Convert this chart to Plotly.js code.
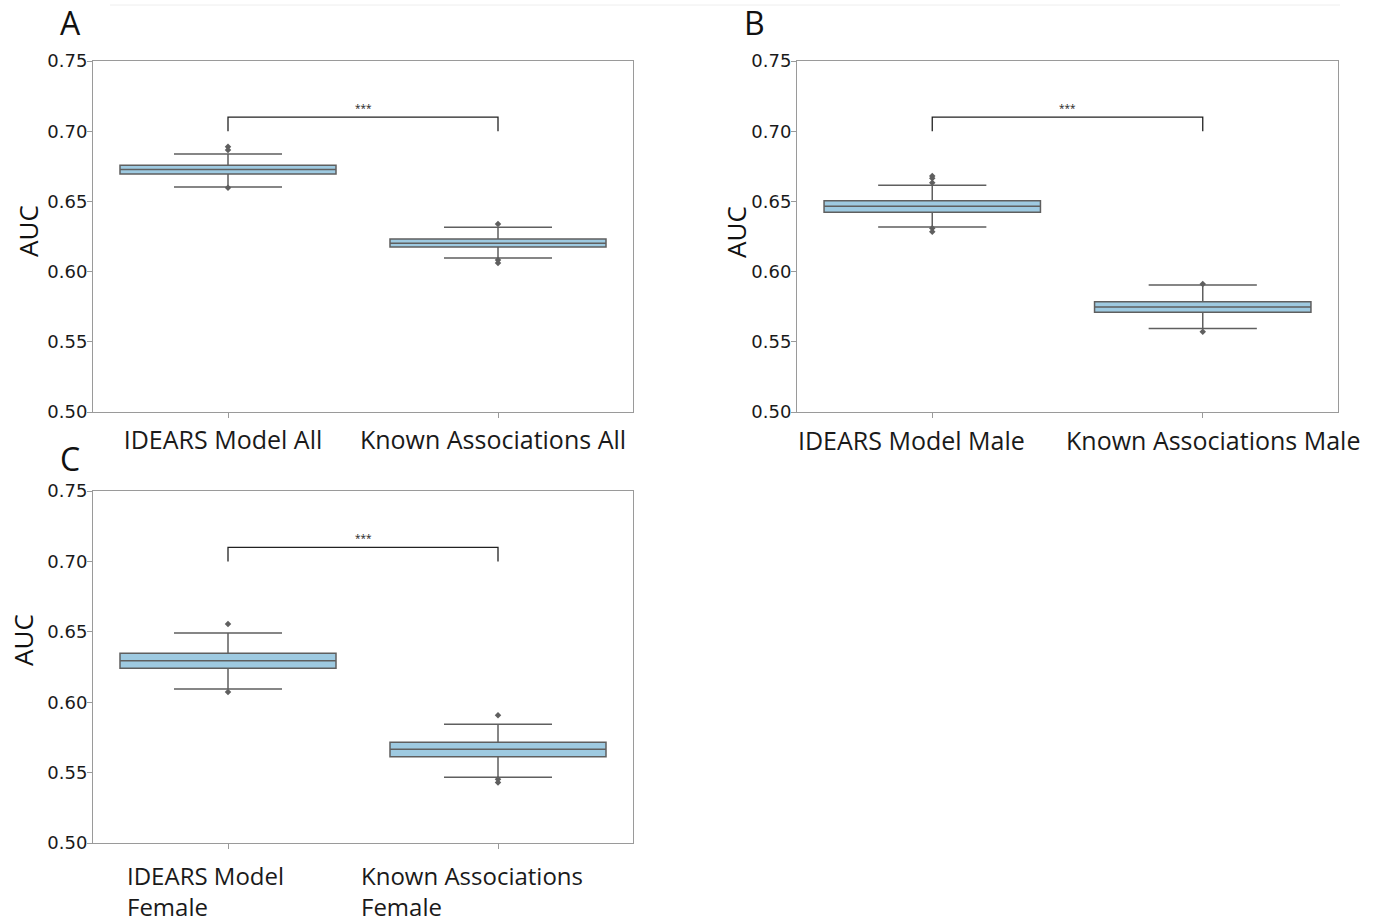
<!DOCTYPE html>
<html>
<head>
<meta charset="utf-8">
<script src="https://cdn.plot.ly/plotly-3.0.1.min.js"></script>
<style>html,body{margin:0;padding:0;background:#fff}#chart{width:1376px;height:922px}</style>
</head>
<body>
<div id="chart"></div>
<script>
// ---- data ----
const panelLetters = ['A', 'B', 'C'];
const categoriesA = ['IDEARS Model All', 'Known Associations All'];
const categoriesB = ['IDEARS Model Male', 'Known Associations Male'];
const categoriesC = ['IDEARS Model Female', 'Known Associations Female'];
const labelsC = ['IDEARS Model<br>Female', 'Known Associations<br>Female'];
const yTitle = 'AUC';

const q1A = [0.6695, 0.6175];
const medA = [0.6727, 0.6202];
const q3A = [0.6757, 0.6232];
const loA = [0.6603, 0.6097];
const hiA = [0.6838, 0.6316];
const outA = [[0.6890, 0.6866, 0.6598], [0.6339, 0.6083, 0.6062]];

const q1B = [0.6422, 0.5710];
const medB = [0.6465, 0.5748];
const q3B = [0.6505, 0.5786];
const loB = [0.6318, 0.5594];
const hiB = [0.6615, 0.5905];
const outB = [[0.6681, 0.6665, 0.6633, 0.6308, 0.6284], [0.5912, 0.5572]];

const q1C = [0.6241, 0.5613];
const medC = [0.6295, 0.5665];
const q3C = [0.6347, 0.5715];
const loC = [0.6094, 0.5467];
const hiC = [0.6491, 0.5843];
const outC = [[0.6555, 0.6072], [0.5907, 0.5452, 0.5430]];

const bracketTop = 0.71;
const bracketEnd = 0.70;
const sigLabel = '***';
const yTicks = [0.50, 0.55, 0.60, 0.65, 0.70, 0.75];

// ---- styling ----
const BOX_FILL = '#9ecae1';
const LINE = '#5f5f5f';
const FRAME = '#9a9a9a';
const FONT = 'Open Sans, Noto Sans, DejaVu Sans, sans-serif';
const TICKFONT = 'DejaVu Sans, sans-serif';

const panels = [
  {cats: categoriesA, q1: q1A, med: medA, q3: q3A, lo: loA, hi: hiA, out: outA, xa: 'x', ya: 'y'},
  {cats: categoriesB, q1: q1B, med: medB, q3: q3B, lo: loB, hi: hiB, out: outB, xa: 'x2', ya: 'y2'},
  {cats: categoriesC, q1: q1C, med: medC, q3: q3C, lo: loC, hi: hiC, out: outC, xa: 'x3', ya: 'y3'}
];

const traces = [];
panels.forEach(p => {
  traces.push({
    type: 'box', x: p.cats, q1: p.q1, median: p.med, q3: p.q3,
    lowerfence: p.lo, upperfence: p.hi, boxpoints: false,
    width: 0.8, whiskerwidth: 0.5,
    fillcolor: BOX_FILL, line: {color: LINE, width: 1.5},
    xaxis: p.xa, yaxis: p.ya, showlegend: false, hoverinfo: 'skip'
  });
  const ox = [], oy = [];
  p.out.forEach((arr, i) => arr.forEach(v => { ox.push(p.cats[i]); oy.push(v); }));
  traces.push({
    type: 'scatter', mode: 'markers', x: ox, y: oy,
    marker: {symbol: 'diamond', size: 5, color: LINE},
    xaxis: p.xa, yaxis: p.ya, showlegend: false, hoverinfo: 'skip'
  });
  traces.push({
    type: 'scatter', mode: 'lines',
    x: [p.cats[0], p.cats[0], p.cats[1], p.cats[1]],
    y: [bracketEnd, bracketTop, bracketTop, bracketEnd],
    line: {color: '#222', width: 1.3},
    xaxis: p.xa, yaxis: p.ya, showlegend: false, hoverinfo: 'skip'
  });
});

function xAxis(domain, anchor, showLabels) {
  return {
    domain: domain, anchor: anchor, type: 'category', range: [-0.5, 1.5],
    showline: true, mirror: true, linecolor: FRAME, linewidth: 1,
    ticks: 'outside', ticklen: 5, tickcolor: FRAME,
    showticklabels: showLabels, ticklabelshift: -5, ticklabelstandoff: 1,
    tickfont: {family: FONT, size: 25, color: '#1a1a1a'},
    showgrid: false, zeroline: false, fixedrange: true
  };
}
function yAxis(domain, anchor) {
  return {
    domain: domain, anchor: anchor, range: [0.5, 0.75],
    tickvals: yTicks, tickformat: '.2f',
    showline: true, mirror: true, linecolor: FRAME, linewidth: 1,
    ticks: 'outside', ticklen: 5, tickcolor: FRAME, ticklabelstandoff: -4,
    tickfont: {family: TICKFONT, size: 18, color: '#1a1a1a'},
    showgrid: false, zeroline: false, fixedrange: true
  };
}

const W = 1376, H = 922;
const domA_x = [93 / W, 633 / W];
const domB_x = [797 / W, 1338 / W];
const domTop_y = [1 - 412 / H, 1 - 61 / H];
const domBot_y = [1 - 843 / H, 1 - 491 / H];

const annotations = [];
const letterPos = [[70, 22], [754, 22], [70, 458]];
panelLetters.forEach((L, i) => {
  annotations.push({
    xref: 'paper', yref: 'paper', x: letterPos[i][0] / W, y: 1 - letterPos[i][1] / H,
    xanchor: 'center', yanchor: 'middle', showarrow: false, text: L,
    font: {family: FONT, size: 32, color: '#111'}
  });
});
// y-axis titles
const titlePos = [[28, 231], [736, 232], [23, 640]];
titlePos.forEach(pos => {
  annotations.push({
    xref: 'paper', yref: 'paper', x: pos[0] / W, y: 1 - pos[1] / H,
    xanchor: 'center', yanchor: 'middle', textangle: -90, showarrow: false,
    text: yTitle, font: {family: FONT, size: 26, color: '#111'}
  });
});
['x', 'x2', 'x3'].forEach((xa, i) => {
  const ya = ['y', 'y2', 'y3'][i];
  annotations.push({
    xref: xa, yref: ya, x: 0.5, y: bracketTop, yanchor: 'bottom', yshift: 0,
    showarrow: false, text: sigLabel, font: {family: FONT, size: 10, color: '#222'}
  });
});
// panel B category labels (spread apart as in the reference)
const labelBX = [911, 1213];
categoriesB.forEach((t, i) => {
  annotations.push({
    xref: 'paper', yref: 'paper', x: labelBX[i] / W, y: 1 - 440 / H,
    xanchor: 'center', yanchor: 'middle', showarrow: false, text: t,
    font: {family: FONT, size: 25, color: '#1a1a1a'}
  });
});
// panel C category labels (left-aligned, two lines)
const labelCX = [125, 359];
labelsC.forEach((t, i) => {
  annotations.push({
    xref: 'paper', yref: 'paper', x: labelCX[i] / W, y: 1 - 857 / H,
    xanchor: 'left', yanchor: 'top', align: 'left', showarrow: false, text: t,
    font: {family: FONT, size: 24, color: '#1a1a1a'}
  });
});

const layout = {
  width: W, height: H, margin: {l: 0, r: 0, t: 0, b: 0},
  paper_bgcolor: '#fff', plot_bgcolor: '#fff', showlegend: false,
  xaxis: xAxis(domA_x, 'y', true),
  yaxis: yAxis(domTop_y, 'x'),
  xaxis2: xAxis(domB_x, 'y2', false),
  yaxis2: yAxis(domTop_y, 'x2'),
  xaxis3: xAxis(domA_x, 'y3', false),
  yaxis3: yAxis(domBot_y, 'x3'),
  annotations: annotations,
  shapes: [{type: 'line', xref: 'paper', yref: 'paper', x0: 110 / W, x1: 1340 / W,
            y0: 1 - 5 / H, y1: 1 - 5 / H, line: {color: '#eeeeee', width: 1}}]
};

Plotly.newPlot('chart', traces, layout, {displayModeBar: false, staticPlot: true});
</script>
</body>
</html>
